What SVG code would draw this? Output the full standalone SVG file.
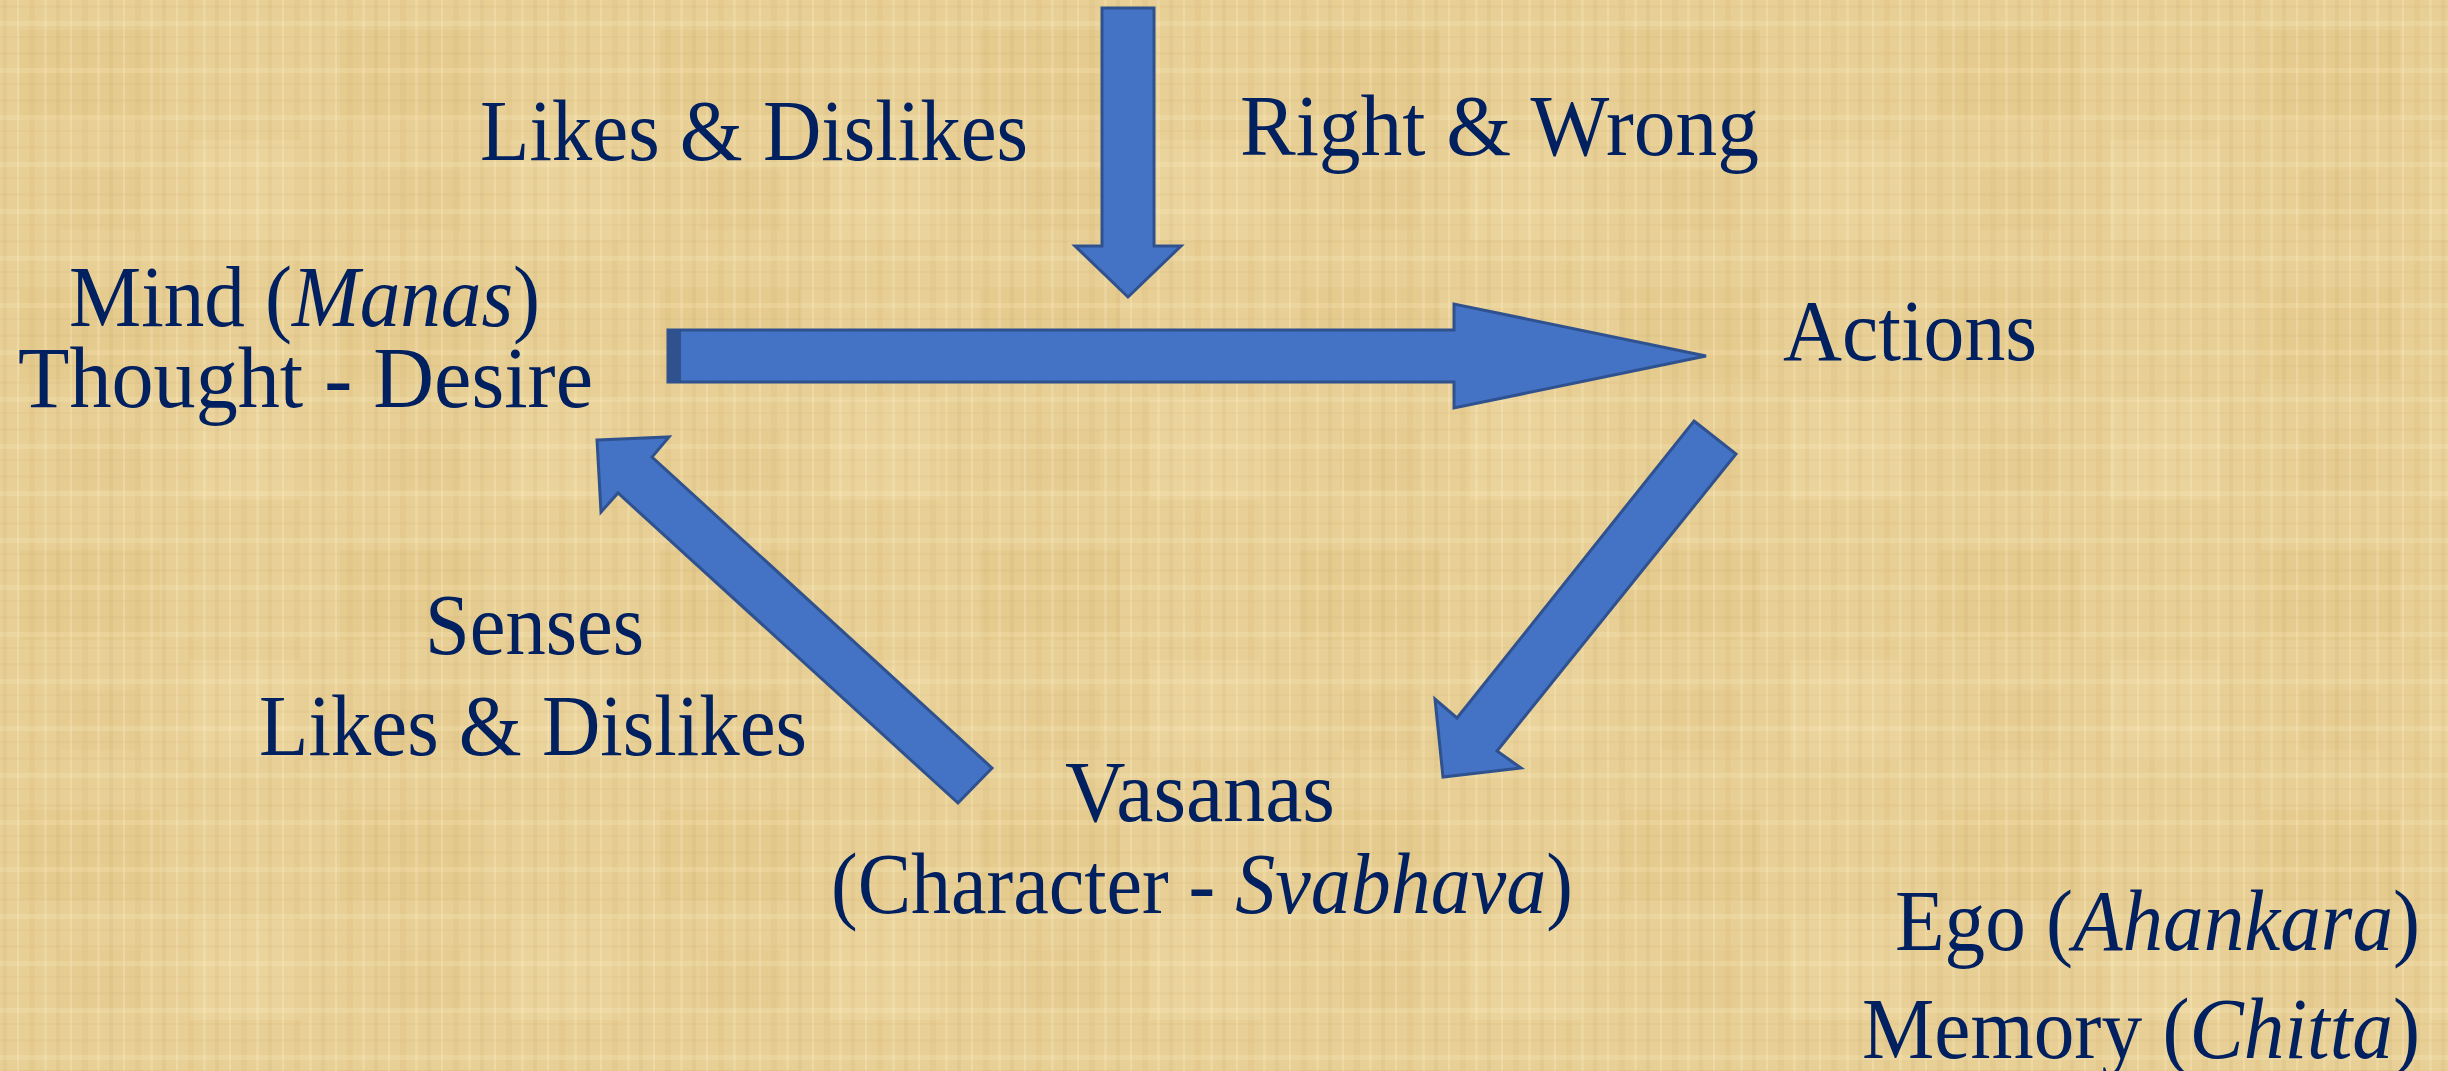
<svg xmlns="http://www.w3.org/2000/svg" width="2448" height="1071" viewBox="0 0 2448 1071">
  <style>
    .lbl { font-family: "Liberation Serif", "Times New Roman", serif; font-size: 86px; fill: #002060; }
    .it { font-style: italic; }
    .arrow { fill: #4472C4; stroke: #2F528F; stroke-width: 3; stroke-linejoin: miter; }
  </style>
  <defs>
    <pattern id="weaveV" width="53" height="200" patternUnits="userSpaceOnUse">
      <rect x="3" y="0" width="4" height="200" fill="#b8955a" opacity="0.10"/>
      <rect x="17" y="0" width="2" height="200" fill="#fff3d0" opacity="0.25"/>
      <rect x="29" y="0" width="6" height="200" fill="#b8955a" opacity="0.07"/>
      <rect x="44" y="0" width="3" height="200" fill="#fff3d0" opacity="0.2"/>
    </pattern>
    <pattern id="weaveH" width="300" height="47" patternUnits="userSpaceOnUse">
      <rect x="0" y="5" width="300" height="3" fill="#b8955a" opacity="0.08"/>
      <rect x="0" y="21" width="300" height="5" fill="#fff3d0" opacity="0.18"/>
      <rect x="0" y="36" width="300" height="2" fill="#b8955a" opacity="0.08"/>
    </pattern>
    <pattern id="blotch" width="320" height="260" patternUnits="userSpaceOnUse">
      <rect x="20" y="30" width="140" height="90" fill="#d8b571" opacity="0.18"/>
      <rect x="190" y="140" width="110" height="100" fill="#f5e2b0" opacity="0.25"/>
      <rect x="60" y="170" width="80" height="60" fill="#d8b571" opacity="0.12"/>
    </pattern>
  </defs>

  <g id="background">
    <rect x="0" y="0" width="2448" height="1071" fill="#E8CF95"/>
    <rect x="0" y="0" width="2448" height="1071" fill="url(#blotch)"/>
    <rect x="0" y="0" width="2448" height="1071" fill="url(#weaveV)"/>
    <rect x="0" y="0" width="2448" height="1071" fill="url(#weaveH)"/>
  </g>

  <g id="connectors">
    <polygon id="arrow-top" class="arrow" points="1102,8 1154,8 1154,246 1181,246 1128,297 1075,246 1102,246"/>
    <g id="arrow-mind-actions">
      <polygon class="arrow" points="668,330 1454,330 1454,304 1706,356 1454,408 1454,382 668,382"/>
      <rect x="668" y="330" width="13" height="52" fill="#2F528F"/>
    </g>
    <polygon id="arrow-actions-vasanas" class="arrow" points="1694,421 1736,454 1497,751 1521,768 1443,777 1435,699 1457,718"/>
    <polygon id="arrow-vasanas-mind" class="arrow" points="597,440 669,437 652,457 992,768 958,803 618,493 601,512"/>
  </g>

  <g id="label-likes-top">
    <text class="lbl" x="480" y="160" textLength="548" lengthAdjust="spacingAndGlyphs">Likes &amp; Dislikes</text>
  </g>
  <g id="label-right-wrong">
    <text class="lbl" x="1240" y="155" textLength="519" lengthAdjust="spacingAndGlyphs">Right &amp; Wrong</text>
  </g>
  <g id="node-mind">
    <text class="lbl" x="69" y="326" textLength="471" lengthAdjust="spacingAndGlyphs">Mind (<tspan class="it">Manas</tspan>)</text>
    <text class="lbl" x="18" y="407" textLength="575" lengthAdjust="spacingAndGlyphs">Thought - Desire</text>
  </g>
  <g id="node-actions">
    <text class="lbl" x="1783" y="360" textLength="254" lengthAdjust="spacingAndGlyphs">Actions</text>
  </g>
  <g id="label-senses">
    <text class="lbl" x="425" y="654" textLength="219" lengthAdjust="spacingAndGlyphs">Senses</text>
    <text class="lbl" x="259" y="755" textLength="548" lengthAdjust="spacingAndGlyphs">Likes &amp; Dislikes</text>
  </g>
  <g id="node-vasanas">
    <text class="lbl" x="1065" y="821" textLength="270" lengthAdjust="spacingAndGlyphs">Vasanas</text>
    <text class="lbl" x="831" y="913" textLength="742" lengthAdjust="spacingAndGlyphs">(Character - <tspan class="it">Svabhava</tspan>)</text>
  </g>
  <g id="label-ego-memory">
    <text class="lbl" x="1895" y="950" textLength="525" lengthAdjust="spacingAndGlyphs">Ego (<tspan class="it">Ahankara</tspan>)</text>
    <text class="lbl" x="1862" y="1058" textLength="558" lengthAdjust="spacingAndGlyphs">Memory (<tspan class="it">Chitta</tspan>)</text>
  </g>
</svg>
